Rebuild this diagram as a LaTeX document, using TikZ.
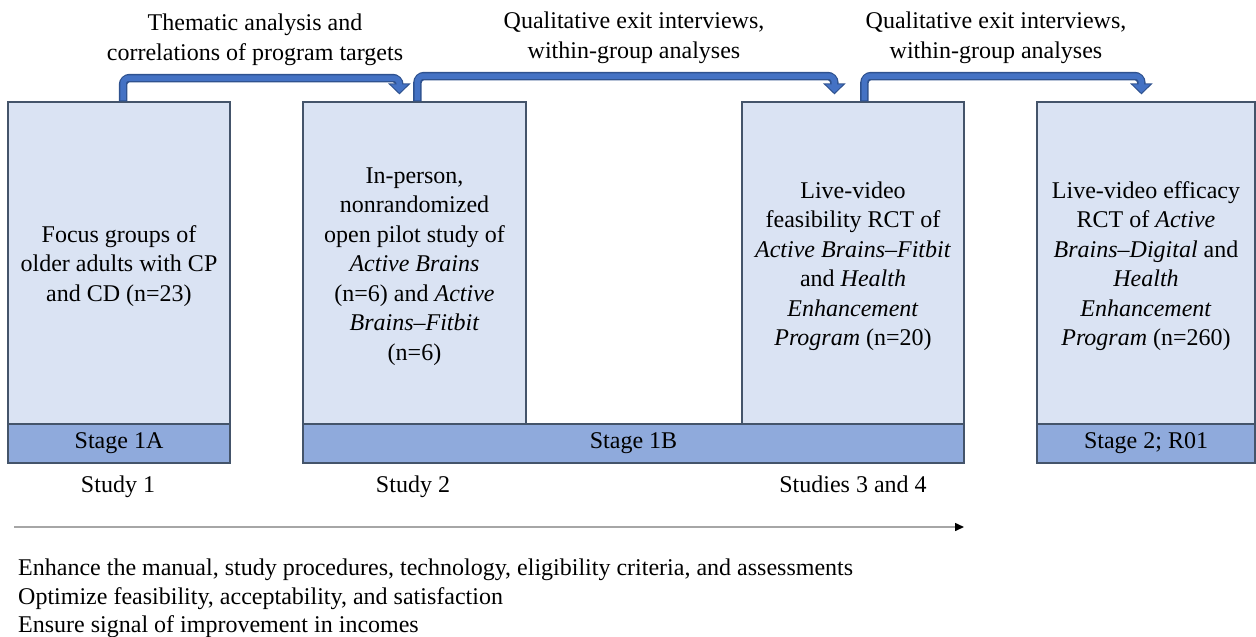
\documentclass[tikz,border=0pt]{standalone}
\usepackage{fontspec}
\setmainfont{Liberation Serif}
\usetikzlibrary{arrows.meta,calc}
\definecolor{boxfill}{HTML}{DAE3F3}
\definecolor{bandfill}{HTML}{8FAADC}
\definecolor{boxline}{HTML}{44546A}
\definecolor{arrblue}{HTML}{4472C4}
\definecolor{arrdark}{HTML}{2F528F}
\definecolor{tlgray}{HTML}{A6A6A6}
\newcommand\boxstrut{\rule{0pt}{23pt}}
\begin{document}
\begin{tikzpicture}[x=1pt,y=-1pt,
  font=\fontsize{24}{29.5}\selectfont,
  box/.style={draw=boxline, line width=1.2pt, fill=boxfill, inner sep=0pt, align=center, minimum height=322pt},
  band/.style={draw=boxline, line width=1.2pt, fill=bandfill, inner sep=0pt, minimum height=39pt},
  toplbl/.style={inner sep=0pt, align=center, anchor=north, font=\fontsize{24}{30}\selectfont},
  lbl/.style={inner sep=0pt, anchor=base},
  connout/.style={draw=arrdark, line width=8.5pt, rounded corners=7pt, -{Triangle[width=22pt,length=11pt]}},
  connin/.style={draw=arrblue, line width=5.5pt, rounded corners=6pt, -{Triangle[width=17pt,length=8.5pt]}},
  timeline/.style={draw=tlgray, line width=1.5pt, -{Triangle[width=8pt,length=9pt,color=black]}}
]
\useasboundingbox (0,0) rectangle (1256,637);

% boxes
\node[box, minimum width=222pt] (b1) at (119,263) {\boxstrut Focus groups of\\older adults with CP\\and CD (n=23)};
\node[box, minimum width=223pt] (b2) at (414.5,263) {\boxstrut In-person,\\nonrandomized\\open pilot study of\\\textit{Active Brains}\\(n=6) and \textit{Active}\\\textit{Brains--Fitbit}\\(n=6)};
\node[box, minimum width=222pt] (b3) at (853,263) {\boxstrut Live-video\\feasibility RCT of\\\textit{Active Brains--Fitbit}\\and \textit{Health}\\\textit{Enhancement}\\\textit{Program} (n=20)};
\node[box, minimum width=218pt] (b4) at (1146,263) {\boxstrut Live-video efficacy\\RCT of \textit{Active}\\\textit{Brains--Digital} and\\\textit{Health}\\\textit{Enhancement}\\\textit{Program} (n=260)};

% stage bands
\node[band, minimum width=222pt] (s1) at (119,443.5) {Stage 1A};
\node[band, minimum width=661pt] (s2) at (633.5,443.5) {Stage 1B};
\node[band, minimum width=218pt] (s3) at (1146,443.5) {Stage 2; R01};

% connectors
\coordinate (a1s) at ([xshift=4pt]b1.north);
\coordinate (a1e) at ($(b2.north west)+(97,-7)$);
\coordinate (a2s) at ($(b2.north west)+(115,0)$);
\coordinate (a2e) at ($(b3.north west)+(93,-7)$);
\coordinate (a3s) at ($(b3.north west)+(123,0)$);
\coordinate (a3e) at ($(b4.north west)+(105,-7)$);

\foreach \s/\e/\h in {a1s/a1e/78, a2s/a2e/76, a3s/a3e/76}{
  \draw[connout] (\s) -- (\s |- 0,\h) -- (\e |- 0,\h) -- (\e);
  \draw[connin] ([yshift=1pt]\s) -- (\s |- 0,\h) -- (\e |- 0,\h) -- ([yshift=1.6pt]\e);
}

% top labels
\node[toplbl] (l1) at (255,14) {Thematic analysis and\\correlations of program targets};
\node[toplbl] (l2) at (634,12) {Qualitative exit interviews,\\within-group analyses};
\node[toplbl] (l3) at (996,12) {Qualitative exit interviews,\\within-group analyses};

% study labels
\node[lbl] (st1) at (118,492) {Study 1};
\node[lbl] (st2) at (413,492) {Study 2};
\node[lbl] (st3) at (853,492) {Studies 3 and 4};

% timeline
\coordinate (t0) at (14,527);
\coordinate (t1) at (964,527);
\draw[timeline] (t0) -- (t1);

% bottom text
\node[inner sep=0pt, anchor=base west] (g1) at (18,575) {Enhance the manual, study procedures, technology, eligibility criteria, and assessments};
\node[inner sep=0pt, anchor=base west] (g2) at (18,604) {Optimize feasibility, acceptability, and satisfaction};
\node[inner sep=0pt, anchor=base west] (g3) at (18,632) {Ensure signal of improvement in incomes};
\end{tikzpicture}
\end{document}
